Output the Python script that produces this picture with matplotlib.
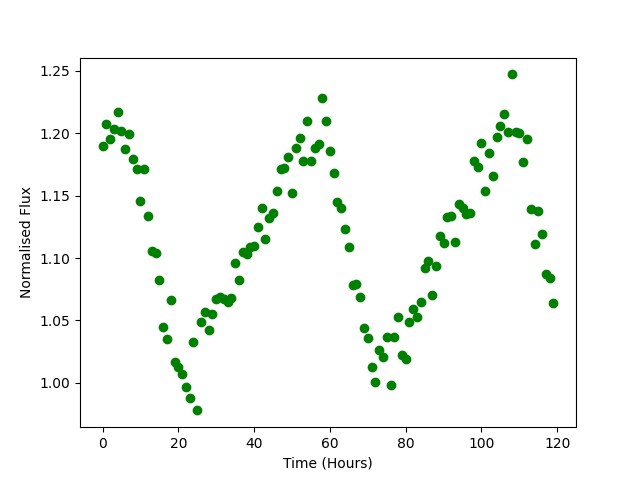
import matplotlib
matplotlib.use("Agg")
import matplotlib.pyplot as plt
import numpy as np

# normalised flux, one reading per hour
flux = [
    1.190, 1.207, 1.195, 1.203, 1.217, 1.202, 1.187, 1.199, 1.179, 1.171,
    1.146, 1.171, 1.134, 1.106, 1.104, 1.082, 1.045, 1.035, 1.066, 1.017,
    1.013, 1.007, 0.997, 0.988, 1.033, 0.978, 1.049, 1.057, 1.042, 1.055,
    1.067, 1.069, 1.067, 1.065, 1.068, 1.096, 1.082, 1.105, 1.103, 1.109,
    1.110, 1.125, 1.140, 1.115, 1.132, 1.136, 1.154, 1.171, 1.172, 1.181,
    1.152, 1.188, 1.196, 1.178, 1.210, 1.178, 1.188, 1.191, 1.228, 1.210,
    1.186, 1.168, 1.145, 1.140, 1.123, 1.109, 1.078, 1.079, 1.069, 1.044,
    1.036, 1.013, 1.001, 1.026, 1.021, 1.037, 0.998, 1.037, 1.053, 1.022,
    1.019, 1.049, 1.059, 1.053, 1.065, 1.092, 1.098, 1.070, 1.094, 1.118,
    1.112, 1.133, 1.134, 1.113, 1.143, 1.140, 1.135, 1.136, 1.178, 1.173,
    1.192, 1.154, 1.184, 1.166, 1.197, 1.206, 1.215, 1.201, 1.247, 1.201,
    1.200, 1.177, 1.195, 1.139, 1.111, 1.138, 1.119, 1.087, 1.084, 1.064,
]
hours = np.arange(len(flux))

fig = plt.figure(figsize=(6.4, 4.8), dpi=100)
plt.plot(hours, flux, 'o', color='green')
plt.xlabel("Time (Hours)")
plt.ylabel("Normalised Flux")
plt.savefig("out.png")
